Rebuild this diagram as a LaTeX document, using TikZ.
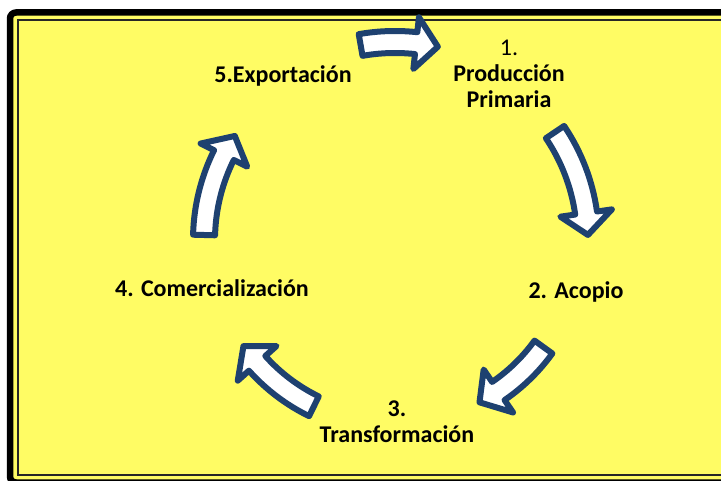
\documentclass[tikz,border=0pt]{standalone}
\usepackage{fontspec}
\setmainfont{Carlito}
\usetikzlibrary{shadows}
\definecolor{amarillo}{RGB}{255,252,100}
\definecolor{azul}{RGB}{30,65,112}

\newcommand{\flecha}[3]{%
\pgfmathsetmacro{\hbase}{#2+22/#3*57.3}
\path[bloque] (#1:#3+11) arc[start angle=#1, end angle=\hbase, radius=#3+11] -- (\hbase:#3+26) -- (#2:#3) -- (\hbase:#3-26) -- (\hbase:#3-11) arc[start angle=\hbase, end angle=#1, radius=#3-11] -- cycle;
}

\begin{document}
\begin{tikzpicture}[x=1pt, y=1pt,
  paso/.style={font=\fontsize{24}{26}\selectfont\bfseries, align=center, anchor=base, inner sep=0pt},
  bloque/.style={draw=azul, fill=white, line width=6pt, line join=round,
    drop shadow={shadow xshift=2pt, shadow yshift=-2pt, opacity=0.2}}]
\useasboundingbox (0,0) rectangle (721,480);
\clip (0,0) rectangle (721,480);
\path[draw, fill=amarillo, line width=6.5pt, rounded corners=6pt] (10,-2.5) rectangle (735,467.5);
\path[draw=black!85, line width=2pt] (18,5.5) rectangle (727,460);

\node[paso] (1) at (509,372) {{\mdseries 1.}\\Producción\\Primaria};
\node[paso] (2) at (576,181) {2. Acopio};
\node[paso] (3) at (397,38) {3.\\Transformación};
\node[paso] (4) at (212,183) {4. Comercialización};
\node[paso] (5) at (283,397) {5.Exportación};

\coordinate (c) at (395,240);
\begin{scope}[shift={(c)}]
\flecha{100}{77.5}{198}
\flecha{34}{1.5}{193}
\flecha{-35.8}{-62.5}{183}
\flecha{-116}{-145}{185}
\flecha{178.5}{147}{191}
\end{scope}
\end{tikzpicture}
\end{document}
